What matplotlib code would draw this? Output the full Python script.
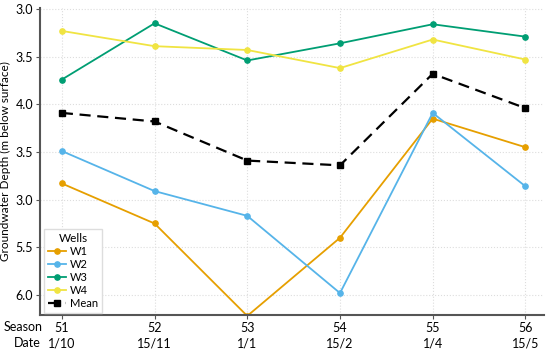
import numpy as np
import matplotlib.pyplot as plt

plt.rcParams['font.family'] = ['Lato', 'DejaVu Sans']

# data
seasons = ['51', '52', '53', '54', '55', '56']
dates = ['1/10', '15/11', '1/1', '15/2', '1/4', '15/5']
w1 = [4.83, 5.25, 6.22, 5.40, 4.15, 4.45]
w2 = [4.49, 4.91, 5.17, 5.98, 4.09, 4.86]
w3 = [3.74, 3.15, 3.54, 3.36, 3.16, 3.29]
w4 = [3.23, 3.39, 3.43, 3.62, 3.32, 3.53]
mean = [4.09, 4.18, 4.59, 4.64, 3.68, 4.04]
ytick_vals = [3.0, 3.5, 4.0, 4.5, 5.0, 5.5, 6.0]
ytick_text = ['3.0', '3.5', '4.0', '3.5', '3.0', '5.5', '6.0']

x = np.arange(len(seasons))

fig = plt.figure(figsize=(5.5, 3.5), dpi=100)
ax = fig.add_axes([0.073, 0.10, 0.916, 0.877])

ax.plot(x, w1, '-o', color='#E69F00', lw=1.3, ms=3.8, label='W1')
ax.plot(x, w2, '-o', color='#56B4E9', lw=1.3, ms=3.8, label='W2')
ax.plot(x, w3, '-o', color='#009E73', lw=1.3, ms=3.8, label='W3')
ax.plot(x, w4, '-o', color='#F0E442', lw=1.3, ms=3.8, label='W4')
ax.plot(x, mean, '--s', color='black', lw=1.6, ms=4.2, dashes=(5, 3), label='Mean')

ax.set_xlim(-0.234, 5.2)
ax.set_ylim(6.21, 2.99)
ax.set_yticks(ytick_vals)
ax.set_yticklabels(ytick_text)
ax.set_xticks(x)
ax.set_xticklabels([s + '\n' + d for s, d in zip(seasons, dates)], linespacing=1.35)
ax.tick_params(labelsize=9, length=3, color='#555555', pad=2)
ax.grid(True, ls=':', color='#dddddd', lw=0.8)

for side in ['top', 'right']:
    ax.spines[side].set_visible(False)
for side in ['left', 'bottom']:
    ax.spines[side].set_color('#555555')
    ax.spines[side].set_linewidth(1.5)

ax.set_ylabel('Groundwater Depth (m below surface)', fontsize=8.5, labelpad=3)

fig.text(0.077, 0.065, 'Season', fontsize=9, ha='right', va='center')
fig.text(0.074, 0.02, 'Date', fontsize=9, ha='right', va='center')

leg = ax.legend(title='Wells', loc='lower left', bbox_to_anchor=(0.008, 0.008),
                fontsize=8, title_fontsize=8.5, frameon=True, framealpha=1,
                edgecolor='#dddddd', fancybox=False, borderaxespad=0,
                handlelength=1.6, labelspacing=0.18, handletextpad=0.4,
                borderpad=0.35)

fig.savefig('out.png', dpi=100)
